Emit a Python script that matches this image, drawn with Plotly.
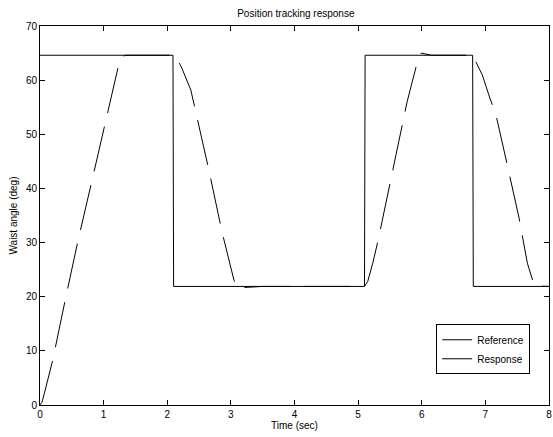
import plotly.graph_objects as go

# Reference (step command), time in sec, angle in deg
ref_t = [0, 2.09, 2.10, 5.10, 5.11, 6.80, 6.81, 8.0]
ref_y = [64.6, 64.6, 21.9, 21.9, 64.6, 64.6, 21.9, 21.9]

# Measured response
resp_t = [0, 0.03, 0.07, 0.2, 0.4, 0.6, 0.82, 1.03, 1.25, 1.3, 1.35, 2.10, 2.15, 2.23,
          2.37, 2.66, 2.86, 3.05, 3.10, 3.2, 3.5, 5.10, 5.15, 5.23, 5.31, 5.77, 5.94,
          5.99, 6.05, 6.15, 6.80, 6.95, 7.07, 7.16, 7.32, 7.53, 7.66, 7.73, 7.77, 8.0]
resp_y = [0, 0.5, 2.2, 8.3, 19.6, 30.5, 41.6, 52.6, 63.5, 64.4, 64.6, 64.6, 64.1, 62.2,
          58.2, 43.1, 32.0, 23.0, 21.6, 21.7, 21.9, 21.9, 22.8, 26.2, 30.2, 56.0, 63.8,
          65.0, 64.9, 64.6, 64.6, 61.0, 56.7, 53.9, 45.6, 34.5, 26.2, 23.4, 22.0, 21.9]

x_ticks = [0, 1, 2, 3, 4, 5, 6, 7, 8]
y_ticks = [0, 10, 20, 30, 40, 50, 60, 70]

FONT = "Liberation Sans, Arial, Helvetica, sans-serif"

fig = go.Figure()
fig.add_trace(go.Scatter(x=ref_t, y=ref_y, mode="lines", name="Reference",
                         line=dict(color="black", width=1)))
fig.add_trace(go.Scatter(x=resp_t, y=resp_y, mode="lines", name="Response",
                         showlegend=False,
                         line=dict(color="black", width=1, dash="46px,14px")))
# legend sample for the response (drawn solid, as in the reference legend)
fig.add_trace(go.Scatter(x=[None], y=[None], mode="lines", name="Response",
                         line=dict(color="black", width=1)))

axis_common = dict(showline=True, linecolor="black", linewidth=1, mirror="ticks",
                   ticks="inside", ticklen=5, tickcolor="black", tickwidth=1,
                   showgrid=False, zeroline=False, ticklabeloverflow="allow",
                   tickfont=dict(family=FONT, size=10, color="black"))

fig.update_layout(
    width=553, height=437,
    margin=dict(l=40, r=1, t=26, b=32),
    paper_bgcolor="white", plot_bgcolor="white",
    font=dict(family=FONT, size=10, color="black"),
    title=dict(text="Position tracking response", x=0.535, xanchor="center",
               y=1 - 13.5 / 437, yanchor="middle", yref="container",
               font=dict(family=FONT, size=10, color="black")),
    xaxis=dict(range=[0, 8], tickvals=x_ticks, ticktext=[str(v) for v in x_ticks],
               title=dict(text="Time (sec)", standoff=2,
                          font=dict(family=FONT, size=10, color="black")),
               **axis_common),
    yaxis=dict(range=[0, 70], tickvals=y_ticks, ticktext=[str(v) for v in y_ticks],
               title=dict(text="Waist angle (deg)", standoff=6,
                          font=dict(family=FONT, size=10, color="black")),
               **axis_common),
    legend=dict(x=0.963, xanchor="right", y=0.213, yanchor="top",
                bgcolor="white", bordercolor="black", borderwidth=1,
                font=dict(family=FONT, size=10, color="black"),
                tracegroupgap=0, itemwidth=30),
    showlegend=True,
)

fig.write_html("out.html")
